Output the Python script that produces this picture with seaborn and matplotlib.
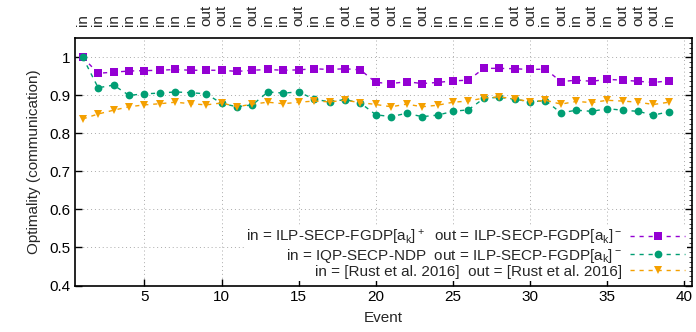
import numpy as np
import pandas as pd
import matplotlib
matplotlib.use('Agg')
import matplotlib.pyplot as plt
from matplotlib.ticker import MultipleLocator
import seaborn as sns

events = list(range(1, 40))

# in / out labels along the top axis
top_labels = ['in'] * 8 + ['out', 'out', 'in', 'out', 'in', 'in', 'out', 'in', 'in', 'out', 'in',
              'out', 'out', 'in', 'out', 'in', 'in', 'in', 'in', 'in', 'out', 'out', 'in', 'out',
              'in', 'out', 'in', 'out', 'out', 'out', 'in']

ilp_fgdp = [1.0, 0.958, 0.961, 0.964, 0.965, 0.966, 0.968, 0.966, 0.966, 0.966, 0.963, 0.966, 0.968,
            0.966, 0.967, 0.970, 0.968, 0.970, 0.967, 0.934, 0.931, 0.936, 0.931, 0.934, 0.938, 0.940,
            0.971, 0.971, 0.970, 0.968, 0.969, 0.936, 0.940, 0.937, 0.942, 0.940, 0.937, 0.934, 0.938]
iqp_ndp = [1.0, 0.920, 0.927, 0.900, 0.904, 0.906, 0.909, 0.907, 0.904, 0.879, 0.870, 0.875, 0.909,
           0.906, 0.909, 0.890, 0.883, 0.889, 0.880, 0.849, 0.844, 0.853, 0.844, 0.848, 0.858, 0.862,
           0.892, 0.895, 0.890, 0.883, 0.886, 0.854, 0.861, 0.858, 0.865, 0.861, 0.858, 0.848, 0.857]
rust = [0.838, 0.851, 0.861, 0.870, 0.875, 0.878, 0.882, 0.878, 0.875, 0.880, 0.870, 0.877, 0.882,
        0.878, 0.882, 0.885, 0.883, 0.887, 0.881, 0.876, 0.870, 0.877, 0.870, 0.874, 0.882, 0.885,
        0.893, 0.896, 0.891, 0.883, 0.887, 0.877, 0.884, 0.881, 0.887, 0.885, 0.882, 0.876, 0.882]

labels = [
    r'in = ILP-SECP-FGDP[a$_k$]$^+$  out = ILP-SECP-FGDP[a$_k$]$^-$',
    r'in = IQP-SECP-NDP  out = ILP-SECP-FGDP[a$_k$]$^-$',
    'in = [Rust et al. 2016]  out = [Rust et al. 2016]',
]

sns.set_style('ticks')
plt.rcParams['font.family'] = ['Liberation Sans', 'DejaVu Sans']
plt.rcParams['mathtext.default'] = 'regular'
plt.rcParams['font.size'] = 11

fig = plt.figure(figsize=(6.96, 3.32), dpi=100)
ax = fig.add_axes([0.1078, 0.140, 0.8865, 0.7446])

styles = [('#9400D3', 's', 5.2), ('#009E73', 'o', 5.6), ('#F4A000', 'v', 6)]
for vals, lab, (col, mk, ms) in zip([ilp_fgdp, iqp_ndp, rust], labels, styles):
    sns.lineplot(x=events, y=vals, ax=ax, color=col, marker=mk, markersize=ms,
                 markeredgewidth=0, linestyle=(0, (3, 3.5)), linewidth=1, label=lab)

ax.set_xlim(0.5, 40.5)
ax.set_ylim(0.4, 1.05)
ax.set_xticks([5, 10, 15, 20, 25, 30, 35, 40])
ax.set_yticks([0.4, 0.5, 0.6, 0.7, 0.8, 0.9, 1.0])
ax.set_yticklabels(['0.4', '0.5', '0.6', '0.7', '0.8', '0.9', '1'])
ax.yaxis.set_minor_locator(MultipleLocator(0.0125))
ax.tick_params(which='major', direction='in', length=5, width=1, top=True, right=True,
               labelsize=11, colors='black')
ax.tick_params(which='minor', direction='in', length=2.5, left=False, right=True)
ax.grid(True, linestyle=(0, (1, 3)), color='#aaaaaa', linewidth=0.7)
for s in ax.spines.values():
    s.set_linewidth(1.2)
    s.set_color('black')

ax.set_xlabel('Event', fontsize=11, labelpad=5)
ax.set_ylabel('Optimality (communication)', fontsize=11, labelpad=6)

leg = ax.legend(loc='lower right', markerfirst=False, frameon=True, fontsize=11,
                handlelength=3.6, labelspacing=0.0, borderpad=0.15, handletextpad=0.5,
                borderaxespad=0.3)
leg.get_frame().set_edgecolor('none')
leg.get_frame().set_facecolor('white')
leg.get_frame().set_alpha(1)
for t in leg.get_texts():
    t.set_ha('right')

ax2 = ax.twiny()
ax2.set_xlim(ax.get_xlim())
ax2.set_xticks(events)
ax2.set_xticklabels(top_labels, rotation=90, fontsize=11, va='bottom', ha='center')
ax2.tick_params(length=0, pad=9)
for s in ax2.spines.values():
    s.set_visible(False)

fig.savefig('out.png', dpi=100)
